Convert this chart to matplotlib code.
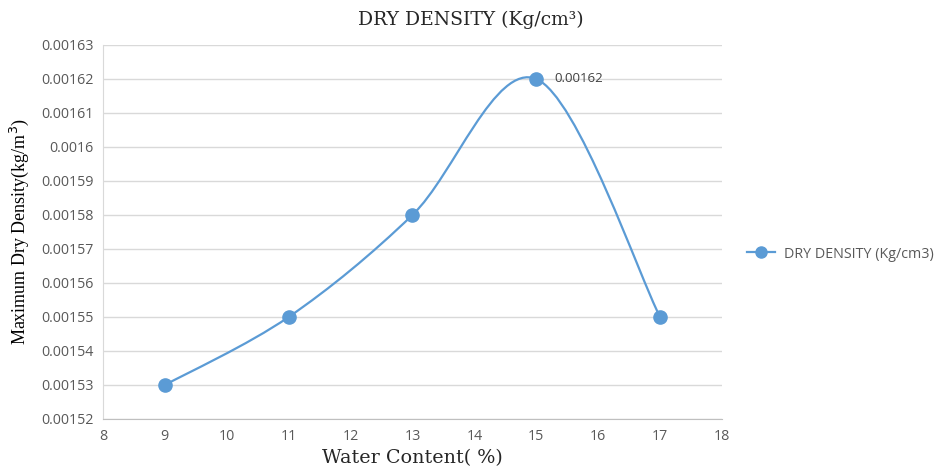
import matplotlib
matplotlib.use("Agg")
import matplotlib.pyplot as plt
from matplotlib.path import Path
from matplotlib.patches import PathPatch
from matplotlib.lines import Line2D

water = [9, 11, 13, 15, 17]
density = [0.00153, 0.00155, 0.00158, 0.00162, 0.00155]
x_ticks = [8, 9, 10, 11, 12, 13, 14, 15, 16, 17, 18]
y_ticks = [0.00152, 0.00153, 0.00154, 0.00155, 0.00156, 0.00157,
           0.00158, 0.00159, 0.0016, 0.00161, 0.00162, 0.00163]
y_labels = ["0.00152", "0.00153", "0.00154", "0.00155", "0.00156", "0.00157",
            "0.00158", "0.00159", "0.0016", "0.00161", "0.00162", "0.00163"]
series_name = "DRY DENSITY (Kg/cm3)"

blue = "#5b9bd5"
grey_txt = "#595959"

fig = plt.figure(figsize=(9.43, 4.73), dpi=100)
ax = fig.add_axes([0.1092, 0.1142, 0.6564, 0.7907])

# excel-style smoothed line: cubic bezier segments through the points
pts = list(zip(water, density))
verts = [pts[0]]
codes = [Path.MOVETO]
n = len(pts)
for i in range(n - 1):
    p0 = pts[i - 1] if i > 0 else pts[i]
    p1 = pts[i]
    p2 = pts[i + 1]
    p3 = pts[i + 2] if i + 2 < n else pts[i + 1]
    c1 = (p1[0] + (p2[0] - p0[0]) / 6, p1[1] + (p2[1] - p0[1]) / 6)
    c2 = (p2[0] - (p3[0] - p1[0]) / 6, p2[1] - (p3[1] - p1[1]) / 6)
    verts += [c1, c2, p2]
    codes += [Path.CURVE4] * 3
ax.add_patch(PathPatch(Path(verts, codes), facecolor="none", edgecolor=blue,
                       lw=1.6, zorder=3))
ax.plot(water, density, ls="none", marker="o", ms=9.5, color=blue, zorder=4)

ax.annotate("0.00162", (water[3], density[3]), xytext=(13, 0),
            textcoords="offset points", va="center", ha="left",
            fontsize=9.5, color="#404040", family="Open Sans")

ax.set_xlim(8, 18)
ax.set_ylim(0.00152, 0.00163)
ax.set_xticks(x_ticks)
ax.set_yticks(y_ticks)
ax.set_yticklabels(y_labels)
ax.tick_params(length=0, labelsize=10.3, labelcolor=grey_txt, pad=7)
for lab in ax.get_xticklabels() + ax.get_yticklabels():
    lab.set_family("Open Sans")
ax.grid(axis="y", color="#d9d9d9", lw=1)
ax.set_axisbelow(True)
for s in ["top", "right"]:
    ax.spines[s].set_visible(False)
ax.spines["left"].set_color("#d9d9d9")
ax.spines["bottom"].set_color("#bfbfbf")

fig.text(0.499, 0.958, "DRY DENSITY (Kg/cm³)", ha="center", va="center",
         fontsize=13.5, family="DejaVu Serif", color="#262626")
ax.set_xlabel("Water Content( %)", fontsize=13.8, family="DejaVu Serif",
              color="#262626", labelpad=4)
ax.set_ylabel("Maximum Dry Density(kg/m$^3$)", fontsize=13,
              family="Liberation Serif", color="black", labelpad=7)

handle = Line2D([], [], color=blue, lw=1.6, marker="o", ms=8)
leg = fig.legend([handle], [series_name], loc="center left",
                 bbox_to_anchor=(0.778, 0.463), frameon=False,
                 prop={"family": "Open Sans", "size": 10.3}, handlelength=2.0,
                 handletextpad=0.6)
for t in leg.get_texts():
    t.set_color(grey_txt)

fig.savefig("out.png", dpi=100)
